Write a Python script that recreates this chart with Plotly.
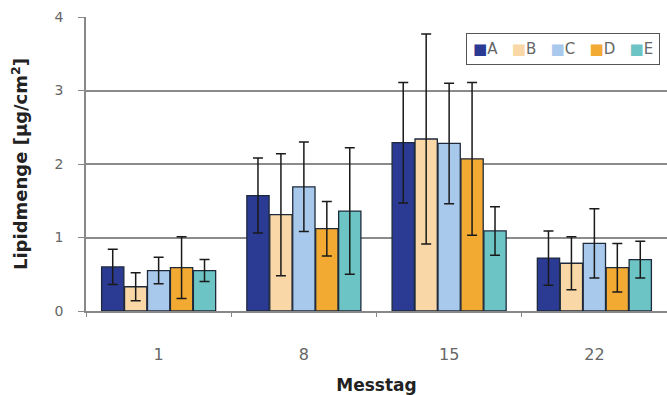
import plotly.graph_objects as go

categories = ["1", "8", "15", "22"]
series_names = ["A", "B", "C", "D", "E"]
values = {
    "A": [0.60, 1.57, 2.29, 0.72],
    "B": [0.33, 1.31, 2.34, 0.65],
    "C": [0.55, 1.69, 2.28, 0.92],
    "D": [0.59, 1.12, 2.07, 0.59],
    "E": [0.55, 1.36, 1.09, 0.70],
}
errors = {
    "A": [0.24, 0.51, 0.82, 0.37],
    "B": [0.19, 0.83, 1.43, 0.36],
    "C": [0.18, 0.61, 0.82, 0.47],
    "D": [0.42, 0.37, 1.04, 0.33],
    "E": [0.15, 0.86, 0.33, 0.25],
}
colors = {
    "A": "#2B3A93",
    "B": "#F9D7A6",
    "C": "#A9C9EC",
    "D": "#F2AA33",
    "E": "#6CC4C4",
}

FONT = "DejaVu Sans, Verdana, sans-serif"

fig = go.Figure()
for s in series_names:
    fig.add_trace(go.Bar(
        name=s, x=categories, y=values[s], showlegend=False,
        marker=dict(color=colors[s], line=dict(color="#1E2A3C", width=1.3)),
        error_y=dict(type="data", array=errors[s], visible=True,
                     color="#1A1A1A", thickness=1.5, width=5),
    ))

# legend drawn as a boxed text line built from the series names and colours
legend_text = "&nbsp;&nbsp;&nbsp;".join(
    f"<span style='color:{colors[s]}'>■</span>{s}" for s in series_names
)

fig.update_layout(
    width=667, height=395,
    margin=dict(l=86, r=0, t=17, b=84),
    paper_bgcolor="white", plot_bgcolor="white",
    barmode="group", bargap=0.21, bargroupgap=0.03,
    font=dict(family=FONT, color="#666666", size=14),
    annotations=[dict(
        text=legend_text, xref="paper", yref="paper",
        x=0.988, y=0.945, xanchor="right", yanchor="top", showarrow=False,
        bordercolor="#555555", borderwidth=1, borderpad=6, bgcolor="white",
        font=dict(family=FONT, size=15, color="#666666"),
    )],
    xaxis=dict(
        showline=True, linecolor="#888888", linewidth=1.5,
        ticks="outside", tickson="boundaries", ticklen=4, tickcolor="#888888",
        ticklabelstandoff=28, tickfont=dict(size=16, color="#666666", family=FONT),
        title=dict(text="Messtag", standoff=16,
                   font=dict(size=17, color="#222222", family=FONT, weight="bold")),
    ),
    yaxis=dict(
        range=[0, 4], dtick=1, showline=True, linecolor="#888888", linewidth=1.5,
        ticks="outside", ticklen=6, tickcolor="#888888",
        ticklabelstandoff=12,
        showgrid=True, gridcolor="#8A8A8A", gridwidth=1.5,
        tickfont=dict(size=14, color="#666666", family=FONT),
        title=dict(text="Lipidmenge [µg/cm<sup>2</sup>]", standoff=22,
                   font=dict(size=18, color="#222222", family=FONT, weight="bold")),
        zeroline=False,
    ),
)

fig.write_html("out.html")
